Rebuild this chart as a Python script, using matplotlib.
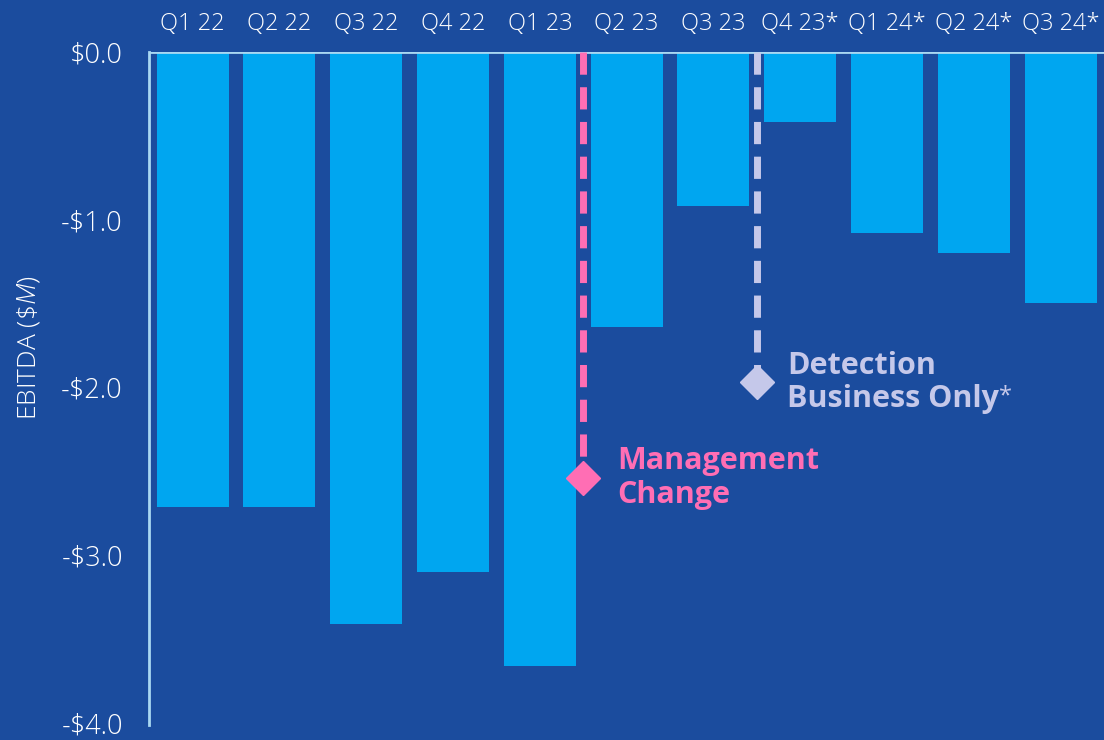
import numpy as np
import matplotlib
matplotlib.use('Agg')
import matplotlib.pyplot as plt

# Quarterly EBITDA values ($M)
quarters = ['Q1 22', 'Q2 22', 'Q3 22', 'Q4 22', 'Q1 23', 'Q2 23',
            'Q3 23', 'Q4 23*', 'Q1 24*', 'Q2 24*', 'Q3 24*']
ebitda = [-2.71, -2.71, -3.41, -3.10, -3.66, -1.64,
          -0.92, -0.42, -1.08, -1.20, -1.50]
y_ticks = [0.0, -1.0, -2.0, -3.0, -4.0]
y_tick_labels = ['$0.0', '-$1.0', '-$2.0', '-$3.0', '-$4.0']

# Event markers: (x between bars, y of diamond)
mgmt_x, mgmt_y = 4.5, -2.54
detect_x, detect_y = 6.5, -1.97

bg = '#1B4C9E'
bar_color = '#00A6F0'
pink = '#FF6EB4'
lavender = '#C5C8EA'
spine_color = '#A9D8F2'

plt.rcParams['font.family'] = ['Open Sans', 'DejaVu Sans']
plt.rcParams['mathtext.fontset'] = 'custom'
plt.rcParams['mathtext.it'] = 'Open Sans:italic:light'
plt.rcParams['mathtext.rm'] = 'Open Sans:light'

fig = plt.figure(figsize=(11.04, 7.40), dpi=100, facecolor=bg)
ax = fig.add_axes([0.1352, 0.0203, 0.8648, 0.9100])
ax.set_facecolor(bg)

x = np.arange(len(quarters))
ax.bar(x, ebitda, width=0.83, color=bar_color, zorder=2)

ax.set_xlim(-0.5, 10.5)
ax.set_ylim(-4.01, 0)

# zero line along the top
ax.axhline(0, color=spine_color, linewidth=2, zorder=3)

for side in ['top', 'right', 'bottom']:
    ax.spines[side].set_visible(False)
ax.spines['left'].set_color(spine_color)
ax.spines['left'].set_linewidth(2)

ax.xaxis.tick_top()
ax.set_xticks(x)
ax.set_xticklabels(quarters, fontsize=17, color='white', fontweight='light')
ax.set_yticks(y_ticks)
ax.set_yticklabels(y_tick_labels, fontsize=19.5, color='white', fontweight='light')
ax.tick_params(axis='x', length=0, pad=11)
ax.tick_params(axis='y', length=0, pad=19)

ax.set_ylabel('EBITDA ($\\it{\\$M}$)', fontsize=19, color='white',
              fontweight='light')
ax.yaxis.set_label_coords(-0.112, 0.561)

# Management change marker
ax.plot([mgmt_x, mgmt_x], [0, mgmt_y], color=pink, linewidth=5,
        dashes=(3.2, 1.8), zorder=4)
ax.plot(mgmt_x, mgmt_y, marker='D', markersize=17, color=pink, zorder=5)
ax.text(4.89, mgmt_y, 'Management\nChange', color=pink, fontsize=22,
        fontweight='bold', va='center', ha='left', linespacing=1.15)

# Detection business marker
ax.plot([detect_x, detect_x], [0, detect_y], color=lavender, linewidth=5,
        dashes=(3.2, 1.8), zorder=4)
ax.plot(detect_x, detect_y, marker='D', markersize=17, color=lavender, zorder=5)
t = ax.text(6.85, detect_y, 'Detection\nBusiness Only', color=lavender,
            fontsize=22, fontweight='bold', va='center', ha='left',
            linespacing=1.15)
ax.annotate('*', xy=(1, 0.28), xycoords=t, color=lavender, fontsize=17,
            ha='left', va='center')

plt.savefig('out.png', dpi=100, facecolor=bg)
